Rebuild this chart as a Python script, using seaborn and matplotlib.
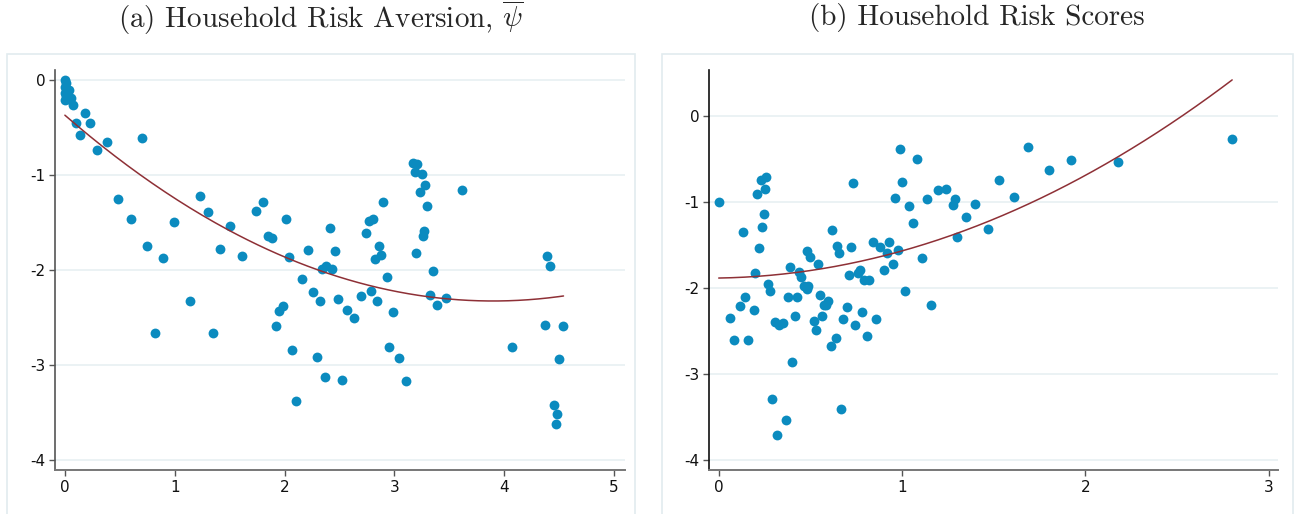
import matplotlib
matplotlib.use("Agg")
import matplotlib.pyplot as plt
from matplotlib.patches import Rectangle
import numpy as np
import pandas as pd
import seaborn as sns

# --- Panel (a): household risk aversion ---
X_A = [0.00, 0.01, 0.00, 0.02, 0.00, 0.01, 0.03, 0.00,
       0.04, 0.055, 0.07, 0.18, 0.10, 0.23, 0.14, 0.29, 0.38, 0.70, 0.48, 0.60,
       0.75, 0.89, 0.99, 1.23, 1.30, 1.50, 1.41, 1.61, 1.74, 1.80, 1.85, 1.89,
       2.01, 2.04, 2.21, 2.41, 2.34, 2.38, 2.43, 2.16, 1.14, 0.82, 1.35, 2.26,
       2.32, 1.95, 1.99, 1.92, 2.07, 2.30, 2.37, 2.10,
       3.17, 3.21, 3.19, 3.25, 3.28, 3.23, 3.62, 3.30, 2.90, 2.77, 2.81, 2.74,
       3.27, 3.26, 2.46, 2.86, 2.88, 2.82, 3.20, 2.93, 3.35, 2.49, 2.70, 2.79,
       2.84, 2.57, 2.63, 2.99, 3.32, 3.39, 3.47, 2.52, 2.95, 3.04, 3.11,
       4.39, 4.42, 4.07, 4.37, 4.54, 4.50, 4.45, 4.48, 4.47]
Y_A = [0.00, -0.04, -0.08, -0.11, -0.14, -0.17, -0.20, -0.22,
       -0.11, -0.19, -0.27, -0.35, -0.46, -0.46, -0.58, -0.74, -0.66, -0.62, -1.26, -1.47,
       -1.75, -1.88, -1.50, -1.22, -1.39, -1.54, -1.78, -1.86, -1.38, -1.29, -1.65, -1.67,
       -1.47, -1.87, -1.79, -1.56, -1.99, -1.96, -1.99, -2.10, -2.33, -2.66, -2.67, -2.23,
       -2.33, -2.43, -2.38, -2.59, -2.84, -2.92, -3.13, -3.38,
       -0.88, -0.89, -0.97, -0.99, -1.11, -1.18, -1.16, -1.33, -1.29, -1.49, -1.47, -1.61,
       -1.59, -1.64, -1.80, -1.75, -1.84, -1.89, -1.82, -2.08, -2.01, -2.31, -2.28, -2.22,
       -2.33, -2.42, -2.51, -2.44, -2.27, -2.37, -2.30, -3.16, -2.81, -2.93, -3.17,
       -1.86, -1.96, -2.81, -2.58, -2.59, -2.94, -3.42, -3.52, -3.62]
# quadratic fit (intercept, linear, square) as drawn in the source
FIT_A = [-0.375, -1.002, 0.1285]

# --- Panel (b): household risk scores ---
X_B = [0.00, 0.135, 0.21, 0.23, 0.26, 0.25, 0.245, 0.236, 0.22, 0.20, 0.267, 0.28,
       0.142, 0.118, 0.19, 0.39, 0.44, 0.45, 0.48, 0.50, 0.54, 0.465, 0.487, 0.48,
       0.378, 0.427, 0.55, 0.62, 0.645, 0.656, 0.72, 0.73, 0.71, 0.76, 0.77, 0.79,
       0.82, 0.84, 0.88, 0.93, 0.917, 0.90, 0.95, 0.977, 0.964, 0.986, 0.997, 1.037,
       1.016, 1.058, 1.08, 1.106, 1.137, 1.157, 1.195, 1.238, 1.29, 1.275, 1.30,
       1.346, 1.40,
       0.062, 0.086, 0.158, 0.305, 0.329, 0.351, 0.29, 0.32, 0.366, 0.398, 0.415,
       0.517, 0.53, 0.562, 0.573, 0.584, 0.598, 0.611, 0.637, 0.667, 0.68, 0.697,
       0.742, 0.78, 0.81, 0.858,
       1.466, 1.531, 1.613, 1.686, 1.80, 1.922, 2.18, 2.80]
Y_B = [-1.00, -1.35, -0.91, -0.74, -0.71, -0.85, -1.14, -1.29, -1.53, -1.82, -1.95, -2.04,
       -2.10, -2.21, -2.25, -1.76, -1.81, -1.87, -1.57, -1.64, -1.72, -1.98, -1.98, -2.01,
       -2.10, -2.10, -2.08, -1.32, -1.51, -1.59, -1.52, -0.78, -1.85, -1.82, -1.79, -1.91,
       -1.91, -1.47, -1.52, -1.47, -1.59, -1.79, -1.72, -1.56, -0.95, -0.38, -0.77, -1.05,
       -2.04, -1.24, -0.50, -1.65, -0.96, -2.20, -0.86, -0.85, -0.96, -1.03, -1.41,
       -1.18, -1.02,
       -2.35, -2.61, -2.61, -2.39, -2.43, -2.41, -3.29, -3.71, -3.53, -2.86, -2.33,
       -2.38, -2.49, -2.33, -2.20, -2.20, -2.15, -2.68, -2.58, -3.41, -2.36, -2.22,
       -2.43, -2.28, -2.56, -2.36,
       -1.31, -0.74, -0.945, -0.36, -0.63, -0.51, -0.53, -0.27]
FIT_B = [-1.884, 0.034, 0.2817]

TITLES = [r"(a) Household Risk Aversion, $\overline{\psi}$", "(b) Household Risk Scores"]
XTICKS = [[0, 1, 2, 3, 4, 5], [0, 1, 2, 3]]
YTICKS = [[0, -1, -2, -3, -4], [0, -1, -2, -3, -4]]

DOT = "#0b8bbf"
FIT = "#8e3036"
GRID = "#e8f0f2"
BOX = "#e2ebef"

sns.set_style("white")
plt.rcParams["mathtext.fontset"] = "cm"
plt.rcParams["font.family"] = ["DejaVu Sans"]

fig = plt.figure(figsize=(12.94, 5.14), dpi=100)

# light frames around each panel
for x0, x1 in [(7, 635), (662, 1293)]:
    fig.patches.append(Rectangle((x0 / 1294, -0.02), (x1 - x0) / 1294, 1 - 54 / 514 + 0.02,
                                 transform=fig.transFigure, fill=False,
                                 edgecolor=BOX, linewidth=1.2, zorder=0))

ax_a = fig.add_axes([55 / 1294, 44 / 514, 570 / 1294, 400 / 514])
ax_b = fig.add_axes([709 / 1294, 44 / 514, 569 / 1294, 400 / 514])

panels = [
    (ax_a, X_A, Y_A, FIT_A, (-0.09, 5.1), (-4.105, 0.1), 321),
    (ax_b, X_B, Y_B, FIT_B, (-0.053, 3.05), (-4.116, 0.535), 977),
]

for i, (ax, xs, ys, fit, xl, yl, cx) in enumerate(panels):
    sns.scatterplot(x=xs, y=ys, ax=ax, s=50, color=DOT, linewidth=0, zorder=3)
    grid = np.linspace(min(xs), max(xs), 200)
    fitted = fit[0] + fit[1] * grid + fit[2] * grid ** 2
    sns.lineplot(x=grid, y=fitted, ax=ax, color=FIT, linewidth=1.1, zorder=4)
    ax.set_xlim(*xl)
    ax.set_ylim(*yl)
    ax.set_xticks(XTICKS[i])
    ax.set_xticklabels([str(v) for v in XTICKS[i]])
    ax.set_yticks(YTICKS[i])
    ax.set_yticklabels([str(v) for v in YTICKS[i]])
    ax.yaxis.grid(True, color=GRID, linewidth=1.2)
    ax.set_axisbelow(True)
    for side in ["top", "right"]:
        ax.spines[side].set_visible(False)
    ax.spines["left"].set_color("#555555" if i == 0 else "#111111")
    ax.spines["bottom"].set_color("#777777")
    ax.spines["left"].set_linewidth(1.2)
    ax.spines["bottom"].set_linewidth(1.4)
    ax.tick_params(axis="both", direction="out", length=4, width=1,
                   color="#555555", labelsize=11, labelcolor="#111111", pad=3)
    ax.tick_params(axis="x", bottom=True)
    ax.tick_params(axis="y", left=True)
    fig.text(cx / 1294, 1 - 18 / 514, TITLES[i], ha="center", va="center",
             fontsize=21, family="cmr10")

fig.savefig("out.png", dpi=100, facecolor="white")
